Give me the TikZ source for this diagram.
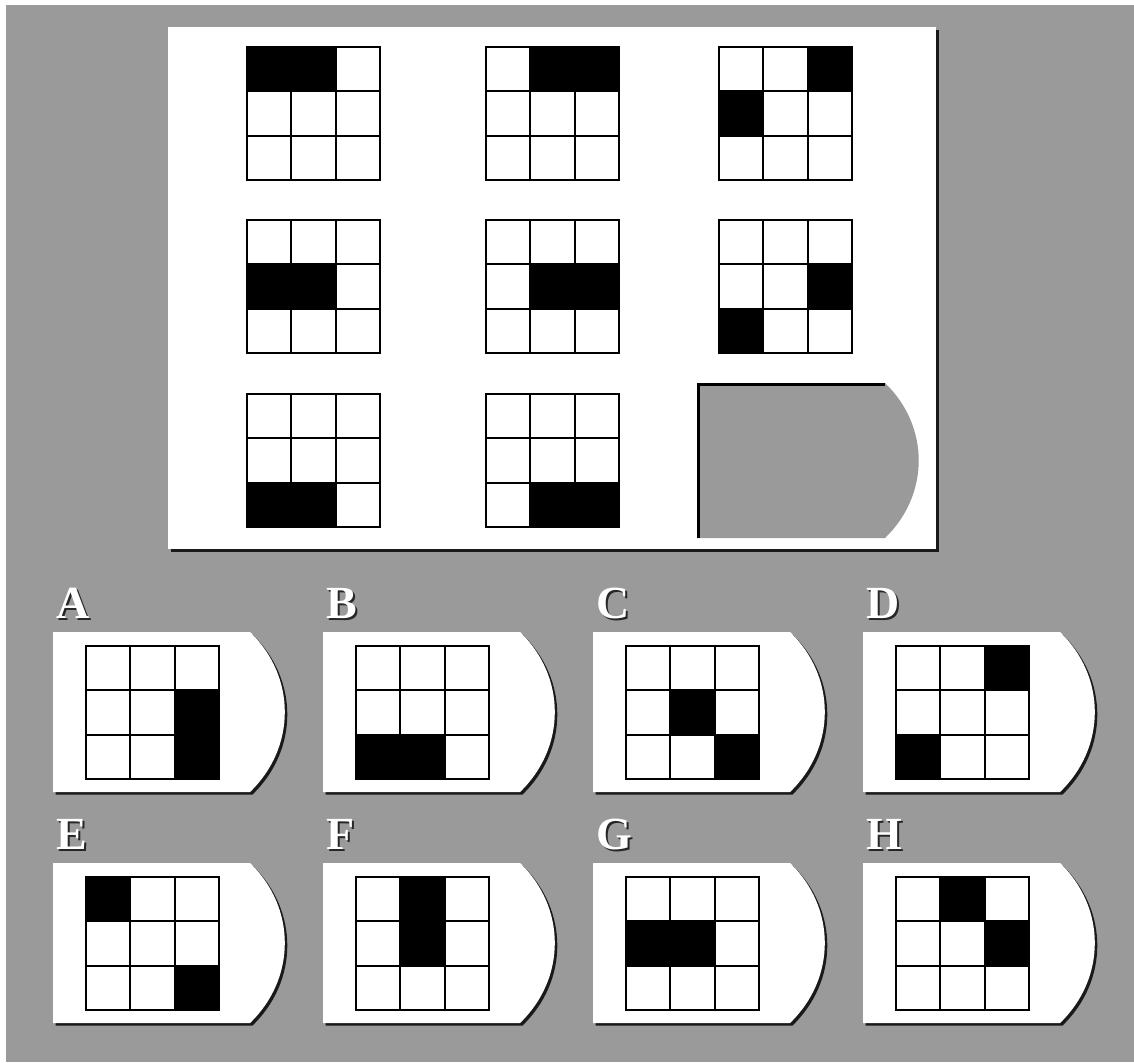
\documentclass[tikz,border=0pt]{standalone}
\usepackage{fontspec}
\newfontfamily\labelfont{Liberation Serif}
\definecolor{bggray}{HTML}{9A9A9A}

\tikzset{
  gridline/.style={line width=1.7pt, black, line cap=rect},
  dropshade/.style={fill=black!90},
  letter/.style={font=\labelfont\bfseries\fontsize{46}{46}\selectfont, inner sep=0pt, anchor=base west, text=white},
}

% cell size of the 3x3 grids
\def\u{44.33}

% embossed letter: dark copy behind, white on top
\newcommand{\emboss}[1]{\rlap{\kern2.5pt\raisebox{-2pt}{\color{black!85}#1}}#1}

% 3x3 grid: top-left x, top-left y, list of black cells col/row
\newcommand{\cellgrid}[3]{%
  \begin{scope}[shift={(#1,#2)}]
    \foreach \c/\r in #3 \fill (\c*\u,\r*\u) rectangle ++(\u,\u);
    \foreach \i in {0,...,3} {
      \draw[gridline] (\i*\u,0) -- (\i*\u,3*\u);
      \draw[gridline] (0,\i*\u) -- (3*\u,\i*\u);
    }
  \end{scope}}

% card with a rounded right side: style, x, y, width, height
\newcommand{\tabshape}[5]{%
  \fill[#1] (#2,#3) -- (#2+#4,#3)
    .. controls (#2+#4+0.29*#5,#3+0.28*#5) and (#2+#4+0.29*#5,#3+0.72*#5) .. (#2+#4,#3+#5)
    -- (#2,#3+#5) -- cycle;}

\begin{document}
\begin{tikzpicture}[x=1pt,y=-1pt]
\useasboundingbox (0,0) rectangle (1134,1062);
\fill[white] (0,0) rectangle (1134,1062);
\fill[bggray] (6,5) rectangle (1134,1062);

% question panel
\fill[dropshade] (171,30) rectangle (939,552);
\fill[white] (168,27) rectangle (936,549);

\foreach \x/\y/\cells in {
  247/47/{0/0,1/0}, 486/47/{1/0,2/0}, 719/47/{2/0,0/1},
  247/220/{0/1,1/1}, 486/220/{1/1,2/1}, 719/220/{2/1,0/2},
  247/394/{0/2,1/2}, 486/394/{1/2,2/2}}
  \cellgrid{\x}{\y}{\cells};

% missing piece
\tabshape{bggray}{697}{383}{188}{155}
\draw[line width=2.6pt] (698.3,538) -- (698.3,384.3) -- (885,384.3);

% answer cards
\foreach \x/\y/\lab/\cells in {
  53/632/A/{2/1,2/2}, 323/632/B/{0/2,1/2}, 593/632/C/{1/1,2/2}, 863/632/D/{2/0,0/2},
  53/863/E/{0/0,2/2}, 323/863/F/{1/0,1/1}, 593/863/G/{0/1,1/1}, 863/863/H/{1/0,2/1}} {
  \tabshape{dropshade}{\x+2.5}{\y+2.5}{197}{160}
  \tabshape{white}{\x}{\y}{197}{160}
  \cellgrid{\x+33}{\y+14}{\cells};
  \node[letter] (lab\lab) at (\x+3,\y-14) {\emboss{\lab}};
}
\end{tikzpicture}
\end{document}
